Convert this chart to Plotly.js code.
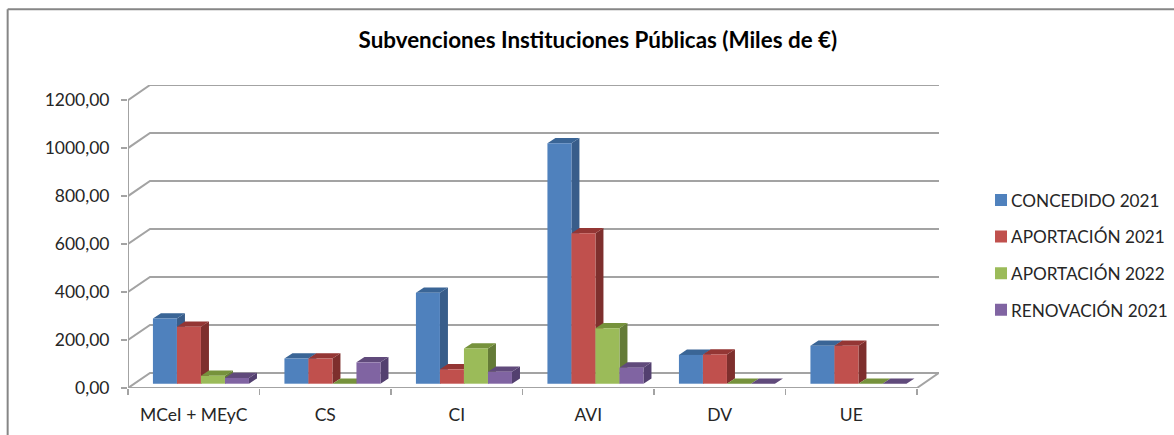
<!DOCTYPE html>
<html>
<head>
<meta charset="utf-8">
<script src="https://cdn.plot.ly/plotly-3.0.1.min.js"></script>
<style>html,body{margin:0;padding:0;background:#fff;overflow:hidden}</style>
</head>
<body>
<div id="chart" style="width:1174px;height:435px;overflow:hidden"></div>
<script>
const categories = ["MCeI + MEyC", "CS", "CI", "AVI", "DV", "UE"];
const seriesNames = ["CONCEDIDO 2021", "APORTACIÓN 2021", "APORTACIÓN 2022", "RENOVACIÓN 2021"];
const concedido2021 = [272, 105, 379, 1002, 120, 158];
const aportacion2021 = [237, 105, 60, 627, 122, 158];
const aportacion2022 = [33, 0, 147, 231, 0, 0];
const renovacion2021 = [24, 89, 50, 67, 0, 0];
const yTicks = [0, 200, 400, 600, 800, 1000, 1200];
const frontColors = ["#4F81BD", "#C0504D", "#9BBB59", "#8064A2"];
const sideColors = ["#385D8A", "#7E2F2D", "#647B37", "#53406F"];
const topColors = ["#3A6596", "#943634", "#76923C", "#604A7B"];

const allValues = [concedido2021, aportacion2021, aportacion2022, renovacion2021];

// pixel geometry of the plot; the canvas runs past the window so the legend never squeezes the plot
const W = 1300, H = 435;
const left = 128.3, right = 939, top_ = 84.7, bottom = 388;
const pxPerCat = (917 - left) / categories.length;
const pxPerUnit = 288 / 1200;
const wallDx = (right - 917) / pxPerCat, wallDy = 15.1 / pxPerUnit;
const xRange = [-0.5, categories.length - 0.5 + wallDx];
const yRange = [0, 1200 + wallDy];
const shiftX = 7.2 / pxPerCat, shiftY = 4.3 / pxPerUnit;
const barW = 24 / pxPerCat, depthX = 8 / pxPerCat, depthY = 5.3 / pxPerUnit;
const GRID = "#a3a3a3";
const fx = p => (p - left) / (right - left);
const fy = p => (bottom - p) / (bottom - top_);

const traces = [];
// walls, floor and grid
const gx = [], gy = [];
yTicks.forEach(v => {
  gx.push(-0.5, -0.5 + wallDx, categories.length - 0.5 + wallDx, null);
  gy.push(v, v + wallDy, v + wallDy, null);
});
gx.push(-0.5, -0.5, null, -0.5, categories.length - 0.5, categories.length - 0.5 + wallDx);
gy.push(0, 1200, null, 0, 0, wallDy);
traces.push({x: gx, y: gy, mode: "lines", line: {color: GRID, width: 2}, showlegend: false,
  hoverinfo: "skip", cliponaxis: false, connectgaps: false});

// side and top faces of the bars, series by series
allValues.forEach((vals, s) => {
  const sx = [], sy = [], tx = [], ty = [];
  vals.forEach((v, i) => {
    const L = i + shiftX + (s - 2) * barW, R = L + barW;
    const B = shiftY, T = shiftY + v;
    sx.push(R, R, R + depthX, R + depthX, R, null);
    sy.push(B, T, T + depthY, B + depthY, B, null);
    tx.push(L, R, R + depthX, L + depthX, L, null);
    ty.push(T, T, T + depthY, T + depthY, T, null);
  });
  traces.push({x: sx, y: sy, mode: "lines", fill: "toself", fillcolor: sideColors[s],
    line: {width: 0, color: sideColors[s]}, showlegend: false, hoverinfo: "skip"});
  traces.push({x: tx, y: ty, mode: "lines", fill: "toself", fillcolor: topColors[s],
    line: {width: 0, color: topColors[s]}, showlegend: false, hoverinfo: "skip"});
});

// front faces, in a second pair of axes moved by the depth of the bars
allValues.forEach((vals, s) => {
  traces.push({type: "bar", name: seriesNames[s], x: categories, y: vals, xaxis: "x2", yaxis: "y2",
    marker: {color: frontColors[s], line: {width: 0}}, legendgroup: seriesNames[s]});
});

const FONT = "Lato, 'Open Sans', sans-serif";
const layout = {
  width: W, height: H, autosize: false,
  margin: {l: left, r: W - right, t: top_, b: H - bottom, pad: 0},
  paper_bgcolor: "#fff", plot_bgcolor: "rgba(0,0,0,0)",
  font: {family: FONT, size: 17.5, color: "#262626"},
  separators: ", ",
  title: {text: "Subvenciones Instituciones Públicas (Miles de €)",
    font: {family: FONT, size: 22.4, color: "#000", weight: 700},
    x: fx(598), xanchor: "center", xref: "paper", y: 1 - 40 / H, yanchor: "middle", yref: "container"},
  barmode: "group", bargap: 1 - 96 / pxPerCat, bargroupgap: 0,
  xaxis: {type: "linear", range: xRange, tickmode: "array", tickvals: categories.map((c, i) => i),
    ticktext: categories, ticks: "", showgrid: false, zeroline: false, showline: false,
    ticklabelstandoff: 14, tickfont: {size: 17.5},
    minor: {tickmode: "array", tickvals: categories.map((c, i) => i - 0.5).concat([categories.length - 0.5]),
      ticks: "outside", ticklen: 6, tickwidth: 1.4, tickcolor: GRID, showgrid: false}},
  yaxis: {type: "linear", range: yRange, tickmode: "array", tickvals: yTicks, tickformat: ".2f",
    ticks: "outside", ticklen: 6, tickwidth: 1.4, tickcolor: GRID, showgrid: false, zeroline: false,
    showline: false, ticklabelstandoff: 8},
  xaxis2: {type: "category", categoryorder: "array", categoryarray: categories,
    overlaying: "x", range: [xRange[0] - shiftX, xRange[1] - shiftX], visible: false, anchor: "y2"},
  yaxis2: {overlaying: "y", range: [yRange[0] - shiftY, yRange[1] - shiftY], visible: false, anchor: "x2"},
  legend: {x: fx(971), y: fy(182), xanchor: "left", yanchor: "top", orientation: "v",
    traceorder: "grouped", tracegroupgap: 11.3, font: {size: 17.2, color: "#262626"},
    bgcolor: "rgba(0,0,0,0)", borderwidth: 0},
  shapes: [
    {type: "line", xref: "paper", yref: "paper", x0: fx(8), x1: fx(8), y0: fy(9), y1: fy(H + 5),
      line: {color: "#868686", width: 2}, layer: "below"},
    {type: "line", xref: "paper", yref: "paper", x0: fx(8), x1: fx(W + 5), y0: fy(9), y1: fy(9),
      line: {color: "#868686", width: 2}, layer: "below"}
  ],
  hovermode: false
};
Plotly.newPlot("chart", traces, layout, {displayModeBar: false, staticPlot: true}).then(() => {
  // the legend swatches sit closer to their labels in the reference
  document.querySelectorAll("#chart .legend .legendpoints").forEach(g => g.setAttribute("transform", "translate(10,0)"));
});
</script>
</body>
</html>
